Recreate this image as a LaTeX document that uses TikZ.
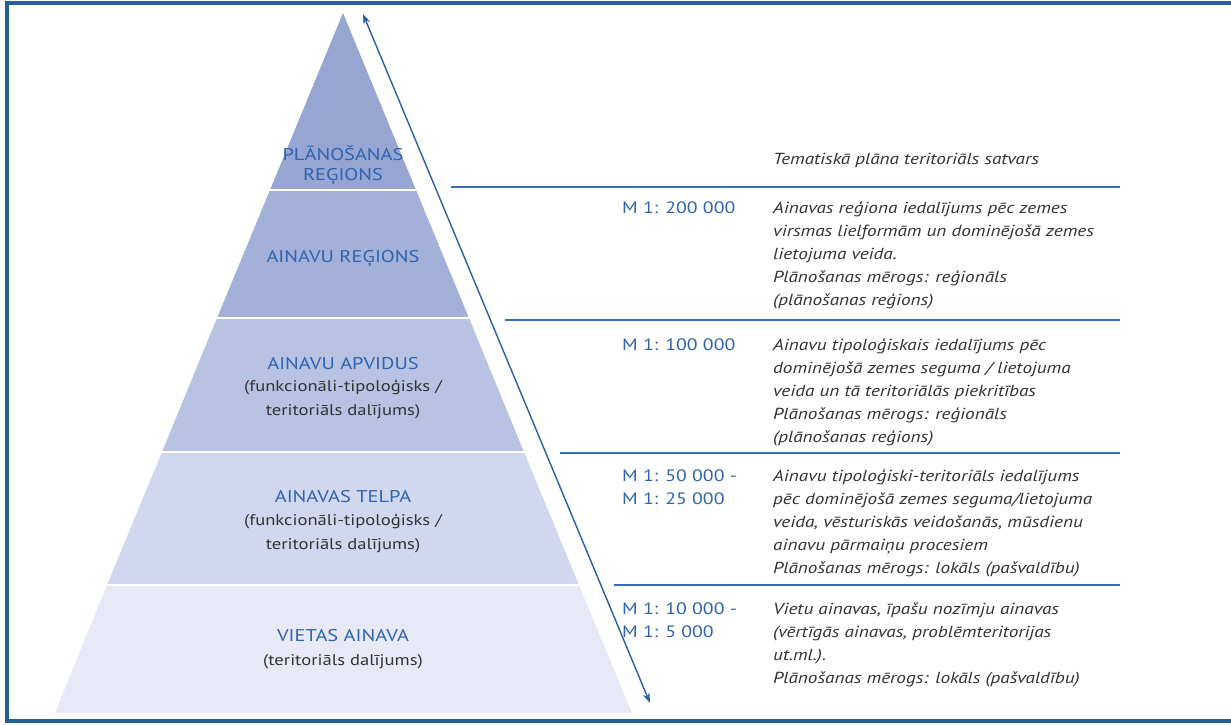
\documentclass[tikz,border=0pt]{standalone}
\usepackage{fontspec}
\setmainfont{PT Sans}[FakeStretch=1.2]
\usetikzlibrary{arrows.meta}
\definecolor{frameblue}{HTML}{245F9C}
\definecolor{arrowblue}{HTML}{2A5EA6}
\definecolor{ruleblue}{HTML}{3B6CB6}
\definecolor{titleblue}{HTML}{2E64B0}
\definecolor{textgrey}{HTML}{333333}
\definecolor{layA}{HTML}{96A5D2}
\definecolor{layB}{HTML}{A3B0D8}
\definecolor{layC}{HTML}{B8C2E3}
\definecolor{layD}{HTML}{D1D7EE}
\definecolor{layE}{HTML}{E7EAF6}
\tikzset{
  layertitle/.style={anchor=base, text=titleblue, font=\fontsize{17}{20}\selectfont, inner sep=0pt},
  layersub/.style={anchor=base, text=textgrey, font=\fontsize{15.5}{23.5}\selectfont, inner sep=0pt, align=center},
  scalelabel/.style={anchor=base west, text=titleblue, font=\fontsize{16.5}{23}\selectfont, inner sep=0pt, align=left},
  desc/.style={anchor=base west, text=textgrey, font=\fontsize{16}{23}\selectfont\itshape, inner sep=0pt, align=left},
  rowrule/.style={draw=ruleblue, line width=1.8pt},
  sep/.style={draw=white, line width=1.2pt}
}
\begin{document}
\begin{tikzpicture}[x=1pt,y=-1pt]
\useasboundingbox (0,0) rectangle (1231,724);
% frame
\draw[frameblue, line width=4pt] (1240,3) -- (7,3) -- (7,721) -- (1240,721);
% pyramid layers
\fill[layA] (343,13) -- (416,190) -- (270,190) -- cycle;
\fill[layB] (270,190) -- (416,190) -- (469,318) -- (217,318) -- cycle;
\fill[layC] (217,318) -- (469,318) -- (524,452) -- (162,452) -- cycle;
\fill[layD] (162,452) -- (524,452) -- (579,585) -- (107,585) -- cycle;
\fill[layE] (107,585) -- (579,585) -- (632,713) -- (55,713) -- cycle;
\draw[sep] (270,190) -- (416,190);
\draw[sep] (217,318) -- (469,318);
\draw[sep] (162,452) -- (524,452);
\draw[sep] (107,585) -- (579,585);
% arrow
\coordinate (arrtop) at (363,14);
\coordinate (arrbot) at (650,703);
\draw[arrowblue, line width=1.4pt, {Stealth[length=10pt,width=7pt]}-{Stealth[length=10pt,width=7pt]}] (arrtop) -- (arrbot);
% rules
\coordinate (r1a) at (451,187); \coordinate (r1b) at (1120,187);
\coordinate (r2a) at (505,320); \coordinate (r2b) at (1120,320);
\coordinate (r3a) at (560,453); \coordinate (r3b) at (1120,453);
\coordinate (r4a) at (614,585); \coordinate (r4b) at (1120,585);
\draw[rowrule] (r1a) -- (r1b);
\draw[rowrule] (r2a) -- (r2b);
\draw[rowrule] (r3a) -- (r3b);
\draw[rowrule] (r4a) -- (r4b);
% pyramid labels (multi-line nodes: base = last line)
\node[layertitle] (t1a) at (343,160) {PLĀNOŠANAS};
\node[layertitle] (t1b) at (343,180) {REĢIONS};
\node[layertitle] (t2) at (343,262) {AINAVU REĢIONS};
\node[layertitle] (t3) at (343,369) {AINAVU APVIDUS};
\node[layersub] (s3) at (343,415) {(funkcionāli-tipoloģisks /\\teritoriāls dalījums)};
\node[layertitle] (t4) at (343,502) {AINAVAS TELPA};
\node[layersub] (s4) at (343,549) {(funkcionāli-tipoloģisks /\\teritoriāls dalījums)};
\node[layertitle] (t5) at (343,641) {VIETAS AINAVA};
\node[layersub] (s5) at (343,665) {(teritoriāls dalījums)};
% right column
\node[desc] (d0) at (773,164) {Tematiskā plāna teritoriāls satvars};
\node[scalelabel] (m1) at (622,213) {M 1: 200 000};
\node[desc] (d1) at (773,305) {Ainavas reģiona iedalījums pēc zemes\\virsmas lielformām un dominējošā zemes\\lietojuma veida.\\Plānošanas mērogs: reģionāls\\(plānošanas reģions)};
\node[scalelabel] (m2) at (622,350) {M 1: 100 000};
\node[desc] (d2) at (773,442) {Ainavu tipoloģiskais iedalījums pēc\\dominējošā zemes seguma / lietojuma\\veida un tā teritoriālās piekritības\\Plānošanas mērogs: reģionāls\\(plānošanas reģions)};
\node[scalelabel] (m3) at (622,504) {M 1: 50 000 -\\M 1: 25 000};
\node[desc] (d3) at (773,573) {Ainavu tipoloģiski-teritoriāls iedalījums\\pēc dominējošā zemes seguma/lietojuma\\veida, vēsturiskās veidošanās, mūsdienu\\ainavu pārmaiņu procesiem\\Plānošanas mērogs: lokāls (pašvaldību)};
\node[scalelabel] (m4) at (622,637) {M 1: 10 000 -\\M 1: 5 000};
\node[desc] (d4) at (773,683) {Vietu ainavas, īpašu nozīmju ainavas\\(vērtīgās ainavas, problēmteritorijas\\ut.ml.).\\Plānošanas mērogs: lokāls (pašvaldību)};
\end{tikzpicture}
\end{document}
